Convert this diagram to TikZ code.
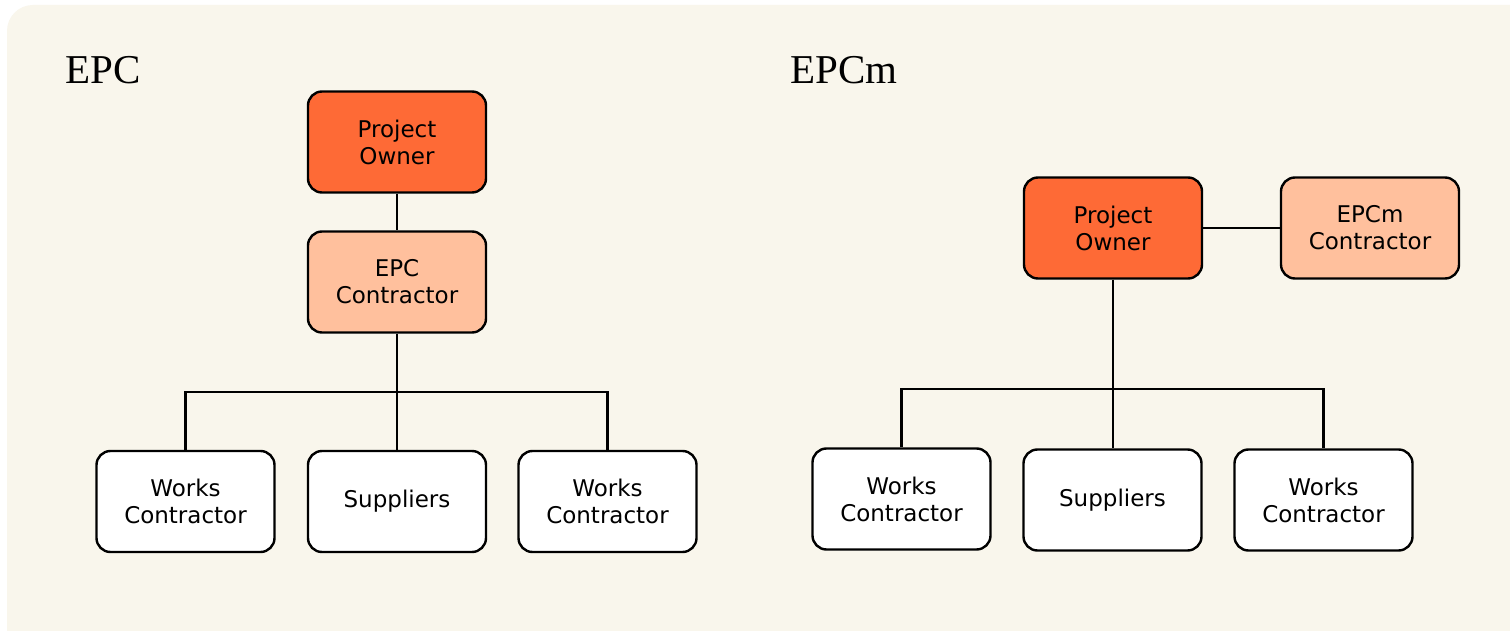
\documentclass[tikz,border=0pt]{standalone}
\usepackage{fontspec}
\setmainfont{Liberation Serif}
\newfontfamily\boxfont{DejaVu Sans}
\definecolor{paper}{HTML}{F9F6EC}
\definecolor{owner}{HTML}{FE6A36}
\definecolor{contractor}{HTML}{FFC09D}
\tikzset{
  orgbox/.style={draw=black, line width=2.4pt, rounded corners=14pt,
    minimum width=178pt, minimum height=101pt, align=center, fill=white,
    font=\boxfont\fontsize{23}{27}\selectfont, inner sep=0pt},
  ownerbox/.style={orgbox, fill=owner},
  contrbox/.style={orgbox, fill=contractor},
  link/.style={draw=black, line width=2.2pt},
  heading/.style={anchor=base west, inner sep=0pt, font=\fontsize{41}{48}\selectfont}
}
\begin{document}
\begin{tikzpicture}[x=1pt, y=-1pt]
  \useasboundingbox (0,0) rectangle (1510,631);
  \fill[white] (0,0) rectangle (1510,631);
  \fill[paper] (1510,631) -- (7,631) [rounded corners=26pt] -- (7,5) [sharp corners] -- (1510,5) -- cycle;

  % EPC model
  \node[heading] (t1) at (65,84) {EPC};
  \node[ownerbox] (po1) at (397,142) {Project\\Owner};
  \node[contrbox] (ec1) at (397,282) {EPC\\Contractor};
  \node[orgbox] (wa1) at (185.5,501.5) {Works\\Contractor};
  \node[orgbox] (su1) at (397,501.5) {Suppliers};
  \node[orgbox] (wb1) at (607.5,501.5) {Works\\Contractor};
  \coordinate (bar1) at (397,392);
  \draw[link] (po1.south) -- (ec1.north);
  \draw[link] (ec1.south) -- (su1.north);
  \draw[link] (wa1.north) -- (wa1.north |- bar1) -- (wb1.north |- bar1) -- (wb1.north);

  % EPCm model
  \node[heading] (t2) at (790,84) {EPCm};
  \node[ownerbox] (po2) at (1113,228) {Project\\Owner};
  \node[contrbox] (ec2) at (1370,228) {EPCm\\Contractor};
  \node[orgbox] (wa2) at (901.5,499) {Works\\Contractor};
  \node[orgbox] (su2) at (1112.5,500) {Suppliers};
  \node[orgbox] (wb2) at (1323.5,500) {Works\\Contractor};
  \coordinate (bar2) at (1113,389);
  \draw[link] (po2.east) -- (ec2.west);
  \draw[link] (po2.south) -- (su2.north -| po2.south);
  \draw[link] (wa2.north) -- (wa2.north |- bar2) -- (wb2.north |- bar2) -- (wb2.north);
\end{tikzpicture}
\end{document}
